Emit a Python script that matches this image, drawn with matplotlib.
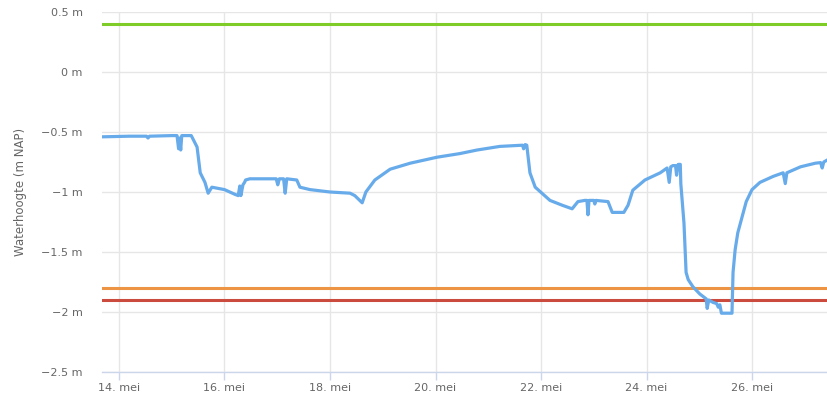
import matplotlib
matplotlib.use("Agg")
import matplotlib.pyplot as plt

# day of May (fractional) and water level in m NAP
days = [13.70, 14.20, 14.52, 14.55, 14.58, 15.00, 15.10, 15.13, 15.15, 15.17, 15.19, 15.37,
        15.48, 15.54, 15.63, 15.69, 15.76, 16.00, 16.20, 16.26, 16.29, 16.31, 16.35, 16.38,
        16.40, 16.48, 16.70, 16.98, 17.01, 17.04, 17.12, 17.15, 17.18, 17.37, 17.43, 17.62,
        18.00, 18.38, 18.47, 18.61, 18.68, 18.85, 19.14, 19.52, 20.03, 20.46, 20.79, 21.22,
        21.65, 21.67, 21.70, 21.73, 21.79, 21.89, 22.17, 22.40, 22.59, 22.70, 22.83, 22.87,
        22.89, 22.91, 23.00, 23.02, 23.04, 23.27, 23.35, 23.57, 23.65, 23.74, 23.97, 24.26,
        24.39, 24.43, 24.46, 24.50, 24.55, 24.57, 24.60, 24.64, 24.65, 24.71, 24.75, 24.79,
        24.88, 25.01, 25.13, 25.15, 25.18, 25.26, 25.33, 25.36, 25.39, 25.42, 25.62, 25.64,
        25.68, 25.73, 25.81, 25.89, 26.00, 26.15, 26.40, 26.59, 26.63, 26.66, 26.92, 27.20,
        27.30, 27.33, 27.36, 27.44]
level = [-0.54, -0.535, -0.535, -0.55, -0.535, -0.53, -0.53, -0.64, -0.55, -0.65, -0.53, -0.53,
         -0.625, -0.84, -0.92, -1.01, -0.96, -0.98, -1.02, -1.03, -0.95, -1.03, -0.94, -0.92,
         -0.90, -0.89, -0.89, -0.89, -0.94, -0.89, -0.89, -1.01, -0.89, -0.90, -0.96, -0.98,
         -1.00, -1.01, -1.03, -1.09, -1.00, -0.90, -0.81, -0.76, -0.71, -0.68, -0.65, -0.62,
         -0.61, -0.64, -0.605, -0.61, -0.84, -0.96, -1.07, -1.11, -1.14, -1.08, -1.07, -1.07,
         -1.19, -1.07, -1.07, -1.10, -1.07, -1.08, -1.17, -1.17, -1.11, -0.985, -0.90, -0.84,
         -0.80, -0.92, -0.79, -0.78, -0.78, -0.86, -0.77, -0.77, -0.93, -1.26, -1.67, -1.73,
         -1.79, -1.85, -1.89, -1.97, -1.90, -1.92, -1.93, -1.96, -1.94, -2.01, -2.01, -1.67,
         -1.48, -1.34, -1.21, -1.08, -0.98, -0.92, -0.87, -0.84, -0.93, -0.84, -0.79, -0.76,
         -0.755, -0.80, -0.75, -0.73]

# reference levels (m NAP)
ref_levels = [0.40, -1.80, -1.90]
ref_colors = ["#7fcc29", "#ec9444", "#cc4b3f"]

x_ticks = [14, 16, 18, 20, 22, 24, 26]
x_labels = [f"{d}. mei" for d in x_ticks]
y_ticks = [0.5, 0, -0.5, -1, -1.5, -2, -2.5]
y_labels = ["0.5 m", "0 m", "\u22120.5 m", "\u22121 m", "\u22121.5 m", "\u22122 m", "\u22122.5 m"]

fig = plt.figure(figsize=(8.28, 4.04), dpi=100)
ax = fig.add_axes([102 / 828, 1 - 372 / 404, 726 / 828, 360 / 404])

for lvl, col in zip(ref_levels, ref_colors):
    ax.axhline(lvl, color=col, lw=2.2, zorder=3)

ax.plot(days, level, color="#68abea", lw=2.3, solid_joinstyle="round", zorder=4)

ax.set_xlim(13.678, 27.44)
ax.set_ylim(-2.5, 0.5)
ax.set_xticks(x_ticks)
ax.set_xticklabels(x_labels)
ax.set_yticks(y_ticks)
ax.set_yticklabels(y_labels)

ax.grid(True, color="#e6e6e6", lw=1, zorder=0)
for s in ["top", "right", "left"]:
    ax.spines[s].set_visible(False)
ax.spines["bottom"].set_color("#ccd6eb")
ax.spines["bottom"].set_linewidth(1)
ax.spines["bottom"].set_zorder(5)

ax.tick_params(axis="y", length=0, pad=14, labelsize=8, labelcolor="#666666")
ax.tick_params(axis="x", length=6, width=1, color="#ccd6eb", pad=2,
               labelsize=8, labelcolor="#666666")

ax.set_ylabel("Waterhoogte (m NAP)", fontsize=8.5, color="#666666", labelpad=10)

fig.savefig("out.png", dpi=100)
